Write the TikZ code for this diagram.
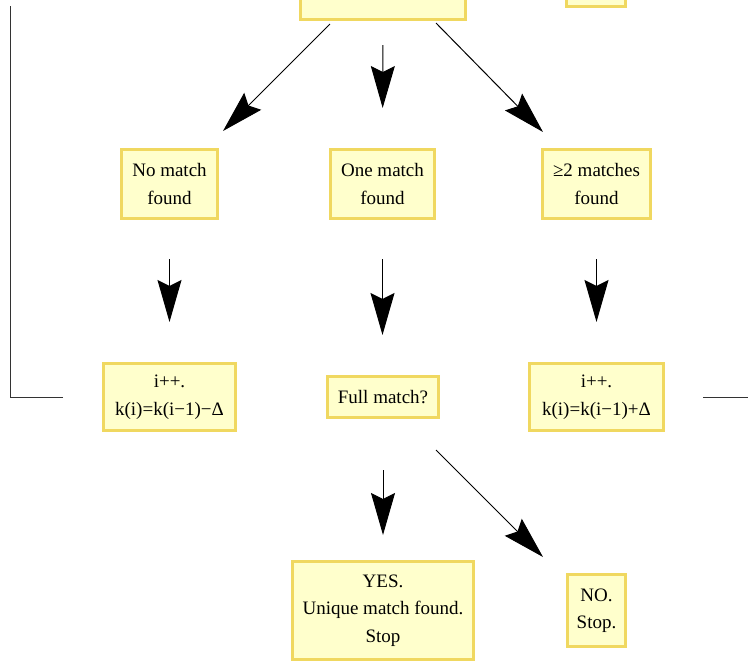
\documentclass[tikz,border=0pt]{standalone}
\usepackage{fontspec}
\setmainfont{Liberation Serif}
\usetikzlibrary{arrows.meta,calc}
\definecolor{boxfill}{RGB}{255,255,204}
\definecolor{boxline}{RGB}{240,216,96}
\tikzset{
  box/.style={draw=boxline, fill=boxfill, line width=3pt, inner sep=0pt,
    align=center, font=\fontsize{19pt}{27.5pt}\selectfont},
  arr/.style={-{Stealth[length=42pt,width=24pt,inset=6pt]}, line width=1pt, draw=black},
  plain/.style={line width=1pt, draw=black!80}
}
\begin{document}
\begin{tikzpicture}[x=1pt,y=-1pt]
\useasboundingbox (0,0) rectangle (748,662);
% top (cropped) boxes
\node[box, minimum width=165pt, minimum height=69pt] (top) at (383,-15) {};
\node[box, minimum width=59pt, minimum height=69pt] (topr) at (596,-28) {};
% second row
\node[box, minimum width=96pt, minimum height=69pt] (nm) at (169.5,184) {No match\\found};
\node[box, minimum width=104pt, minimum height=69pt] (om) at (382.5,184) {One match\\found};
\node[box, minimum width=108pt, minimum height=69pt] (tm) at (596.5,184) {≥2 matches\\found};
% third row
\node[box, minimum width=132pt, minimum height=67pt] (ld) at (169.5,397) {i++.\\k(i)=k(i−1)−Δ};
\node[box, minimum width=111pt, minimum height=41pt] (fm) at (383,397) {Full match?};
\node[box, minimum width=134pt, minimum height=67pt] (rd) at (596.5,397) {i++.\\k(i)=k(i−1)+Δ};
% bottom row
\node[box, minimum width=181pt, minimum height=98pt] (yes) at (383,610.5) {YES.\\Unique match found.\\Stop};
\node[box, minimum width=58pt, minimum height=72pt] (no) at (596.5,610.5) {NO.\\Stop.};
% free-end coordinates
\coordinate (d1s) at (330,24);
\coordinate (d1e) at (223,131);
\coordinate (d2s) at (436,23);
\coordinate (d2e) at (543,132);
\coordinate (d3s) at (436,450);
\coordinate (d3e) at (543,557);
\coordinate (lt) at (10,6);
\coordinate (rout) at (752,397);
% arrows
\draw[arr] (d1s) -- (d1e);
\draw[arr, shorten <=24pt, shorten >=40pt] (top.south) -- (om.north);
\draw[arr] (d2s) -- (d2e);
\draw[arr, shorten <=39pt, shorten >=40pt] (nm.south) -- (ld.north);
\draw[arr, shorten <=39pt, shorten >=40pt] (om.south) -- (fm.north -| om.south);
\draw[arr, shorten <=39pt, shorten >=40pt] (tm.south) -- (rd.north);
\draw[arr, shorten <=51pt, shorten >=25pt] (fm.south) -- (yes.north);
\draw[arr] (d3s) -- (d3e);
% loop lines
\draw[plain] ($(ld.west)+(-39,0)$) -| (lt);
\draw[plain] ($(rd.east)+(38,0)$) -- (rout);
\end{tikzpicture}
\end{document}
